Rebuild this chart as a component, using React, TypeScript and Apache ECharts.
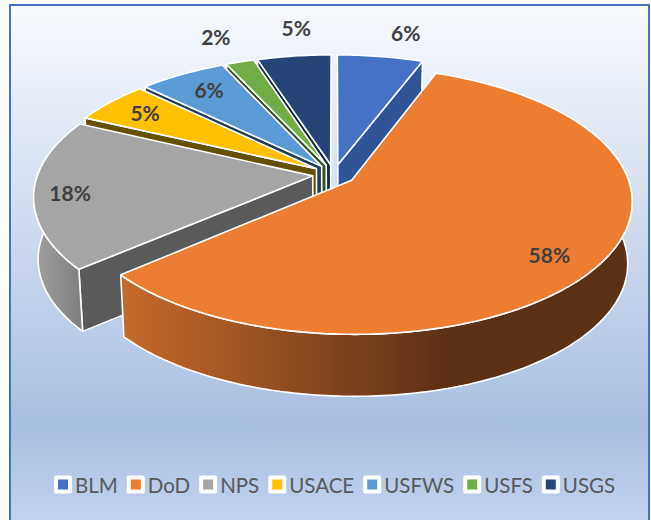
import React, { useEffect, useRef } from "react";
import * as echarts from "echarts";

const CATEGORIES = ["BLM", "DoD", "NPS", "USACE", "USFWS", "USFS", "USGS"];
const VALUES = [5.8, 57.9, 18.3, 5.2, 5.9, 1.9, 5.0];
const TOP_COLORS = ["#4472c4", "#ed7d31", "#a5a5a5", "#ffc000", "#5b9bd5", "#70ad47", "#264478"];
const SIDE_COLORS = ["#2f5597", "#5c3014", "#5a5a5a", "#665000", "#1f3f60", "#36521f", "#14284a"];
// draw order, far slices first
const Z_ORDER = [5, 7, 6, 4, 3, 2, 1];
// label placement, in pie radii and degrees clockwise from twelve o'clock
const LABEL_RADIUS = [1.36, 0.915, 0.95, 0.905, 0.89, 1.372, 1.379];
const LABEL_ANGLE = [13.3, 128.5, 261.8, 305.1, 325.5, 338.1, 353.1];

const CX = 334;
const CY = 174.5;
const RX = 275;
const RY = 129;
const PERSP = 0.15;
const DEPTH = 62;
const BASE_SHRINK = 0.985;
const EXPLODE = 0.078;
const FONT = "Lato, Carlito, 'Open Sans', sans-serif";

const TOTAL = VALUES.reduce((a, b) => a + b, 0);
const rad = (d: number) => (d * Math.PI) / 180;

function project(x: number, y: number): [number, number] {
  const k = 1 / (1 + PERSP * y);
  return [CX + RX * x * k, CY - RY * y * k];
}
function lower(p: [number, number]): [number, number] {
  return [CX + (p[0] - CX) * BASE_SHRINK, p[1] + DEPTH];
}

function renderSlice(index: number) {
  return (_params: any, api: any) => {
    const value = api.value(0);
    const before = VALUES.slice(0, index).reduce((a, b) => a + b, 0);
    const a0 = (before / TOTAL) * 360;
    const a1 = a0 + (value / TOTAL) * 360;
    const mid = (a0 + a1) / 2;
    const ox = EXPLODE * Math.sin(rad(mid));
    const oy = EXPLODE * Math.cos(rad(mid));
    const rim = (a: number) => project(ox + Math.sin(rad(a)), oy + Math.cos(rad(a)));
    const apex = project(ox, oy);
    const top: [number, number][] = [apex];
    for (let a = a0; a < a1; a += 1) top.push(rim(a));
    top.push(rim(a1));

    const side = SIDE_COLORS[index];
    const stroke = { stroke: "#ffffff", lineWidth: 1.6, lineJoin: "round" };
    const children: any[] = [];
    const radialWall = (a: number) => {
      const r = rim(a);
      children.push({
        type: "polygon",
        silent: true,
        shape: { points: [apex, r, lower(r), lower(apex)] },
        style: { fill: side, ...stroke },
      });
    };
    if (Math.sin(rad(a0)) < -0.001) radialWall(a0);
    if (Math.sin(rad(a1)) > 0.001) radialWall(a1);

    const from = Math.max(a0, 80);
    const to = Math.min(a1, 280);
    if (to > from) {
      const upper: [number, number][] = [];
      for (let a = from; a < to; a += 1) upper.push(rim(a));
      upper.push(rim(to));
      const pts = upper.concat(upper.map(lower).reverse());
      const fill =
        index === 1
          ? new echarts.graphic.LinearGradient(122, 0, 630, 0, [
              { offset: 0, color: "#c56a2b" },
              { offset: 0.64, color: "#5c3014" },
              { offset: 1, color: "#5c3014" },
            ], true)
          : new echarts.graphic.LinearGradient(35, 0, 85, 0, [
              { offset: 0, color: "#a0a0a0" },
              { offset: 1, color: "#7c7c7c" },
            ], true);
      children.push({ type: "polygon", silent: true, shape: { points: pts }, style: { fill, ...stroke } });
    }

    children.push({
      type: "polygon",
      silent: true,
      shape: { points: top },
      style: { fill: TOP_COLORS[index], ...stroke },
    });

    const lr = LABEL_RADIUS[index];
    const la = rad(LABEL_ANGLE[index]);
    const [lx, ly] = project(lr * Math.sin(la), lr * Math.cos(la));
    children.push({
      type: "text",
      silent: true,
      x: lx,
      y: ly,
      style: {
        text: `${Math.round(value)}%`,
        align: "center",
        verticalAlign: "middle",
        fontFamily: FONT,
        fontWeight: "bold",
        fontSize: 21,
        fill: "#404040",
      },
    });
    return { type: "group", children };
  };
}

export default function App() {
  const ref = useRef<HTMLDivElement>(null);
  useEffect(() => {
    document.body.style.margin = "0";
    const chart = echarts.init(ref.current!, undefined, { renderer: "svg" });
    chart.setOption({
      animation: false,
      backgroundColor: "#ffffff",
      graphic: [
        {
          type: "rect",
          z: -10,
          silent: true,
          shape: { x: 10, y: 5, width: 639, height: 525 },
          style: {
            stroke: "#4472c4",
            lineWidth: 2,
            fill: new echarts.graphic.LinearGradient(0, 0, 0, 1, [
              { offset: 0, color: "#f8fafe" },
              { offset: 0.8, color: "#a9bfe2" },
              { offset: 1, color: "#c4d4ed" },
            ]),
          },
        },
      ],
      legend: {
        left: 54,
        top: 474,
        padding: 0,
        itemWidth: 14,
        itemHeight: 14,
        itemGap: 9,
        icon: "rect",
        data: CATEGORIES,
        itemStyle: { borderColor: "#ffffff", borderWidth: 4, borderJoin: "round" },
        textStyle: { fontFamily: FONT, fontSize: 20.5, color: "#595959" },
      },
      series: CATEGORIES.map((name, i) => ({
        type: "custom",
        name,
        coordinateSystem: "none",
        z: 2 + Z_ORDER[i],
        itemStyle: { color: TOP_COLORS[i] },
        data: [[VALUES[i]]],
        renderItem: renderSlice(i),
      })),
    });
    return () => chart.dispose();
  }, []);
  return <div ref={ref} style={{ width: 651, height: 520 }} />;
}
